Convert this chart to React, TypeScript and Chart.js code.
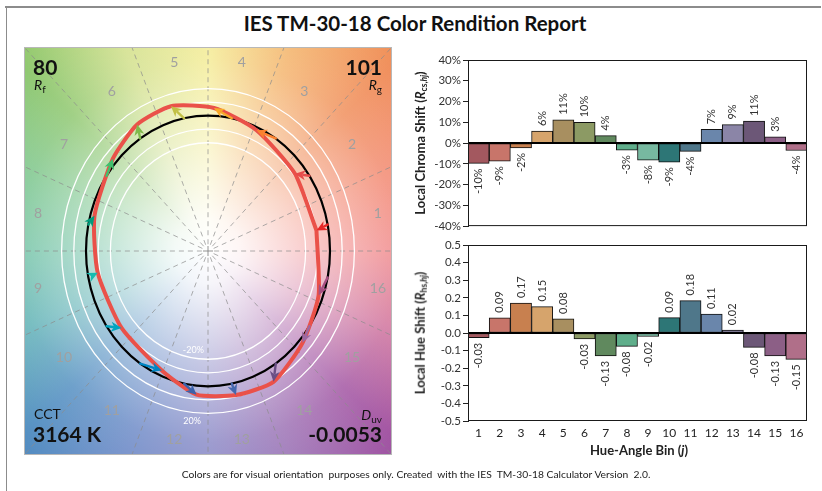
import React, { useEffect, useRef } from "react";
import { Chart, registerables } from "chart.js";

Chart.register(...registerables);
Chart.defaults.font.family = "Lato, 'Open Sans', sans-serif";

// ---------------- data ----------------
const BIN_LABELS = ["1", "2", "3", "4", "5", "6", "7", "8", "9", "10", "11", "12", "13", "14", "15", "16"];
// Local chroma shift, percent
const CHROMA_SHIFT = [-9.8, -8.7, -2.3, 5.8, 11.2, 10.0, 3.6, -3.4, -8.2, -9.2, -4.0, 6.6, 8.9, 10.6, 3.0, -3.6];
// Local hue shift
const HUE_SHIFT = [-0.027, 0.086, 0.17, 0.15, 0.08, -0.033, -0.13, -0.076, -0.02, 0.087, 0.184, 0.108, 0.016, -0.082, -0.13, -0.15];
const BAR_COLORS = ["#a3585f", "#c8756a", "#c8804f", "#d6a46c", "#a88f60", "#8c9a64", "#60895e", "#5fae8b",
  "#77b9a0", "#2d7676", "#4f778a", "#6a86ab", "#8b85a7", "#6c5777", "#8c5f86", "#b06f89"];
const ARROW_COLORS = ["#e62828", "#e74b4b", "#fb812e", "#f7a829", "#c2c046", "#7eb94c", "#41c06d", "#009c7c",
  "#16bcb0", "#00a4bf", "#0085c3", "#3b62aa", "#4568ae", "#6a4e85", "#9d69a1", "#a74f81"];
const CHROMA_AXIS = [-40, 40, 10]; // min, max, step (percent)
const HUE_AXIS = [-0.5, 0.5, 0.1];
const RING_RADII = [0.8, 0.9, 1.1, 1.2];
const RING_LABELS = ["-20%", "20%"];
const REFERENCE_RADIUS = 1;
const FIDELITY = "80";
const GAMUT = "101";
const CCT = "3164 K";
const DUV = "-0.0053";
const BG_HUES: [number, string][] = [
  [0, "#f08486"], [22.5, "#f2866e"], [45, "#f08c58"], [67.5, "#f4b46c"], [90, "#f4ec94"],
  [112.5, "#d2e08c"], [135, "#8cc66c"], [157.5, "#78c48a"], [180, "#6cc0a2"], [202.5, "#5cb0b4"],
  [225, "#4f8cc0"], [247.5, "#6a88c6"], [270, "#8888c6"], [292.5, "#9a70b4"], [315, "#a050a0"],
  [337.5, "#d0709a"], [360, "#f08486"],
];

const BIN_WIDTH = (2 * Math.PI) / BIN_LABELS.length;
const binCenter = (j: number) => (j + 0.5) * BIN_WIDTH;

// ---------------- vector graphic ----------------
function drawArrow(ctx: CanvasRenderingContext2D, x0: number, y0: number, x1: number, y1: number, color: string) {
  const dx = x1 - x0, dy = y1 - y0;
  const len = Math.hypot(dx, dy);
  if (len < 0.5) return;
  const ux = dx / len, uy = dy / len;
  const hl = 10.5, hw = 5;
  const bx = x1 - ux * hl, by = y1 - uy * hl;
  ctx.save();
  ctx.strokeStyle = color;
  ctx.fillStyle = color;
  ctx.lineWidth = 2.4;
  ctx.lineCap = "round";
  if (len > hl) {
    ctx.beginPath();
    ctx.moveTo(x0, y0);
    ctx.lineTo(bx + ux * 2, by + uy * 2);
    ctx.stroke();
  }
  ctx.beginPath();
  ctx.moveTo(x1, y1);
  ctx.lineTo(bx - uy * hw, by + ux * hw);
  ctx.lineTo(bx + ux * 3, by + uy * 3);
  ctx.lineTo(bx + uy * hw, by - ux * hw);
  ctx.closePath();
  ctx.fill();
  ctx.restore();
}

function VectorGraphic() {
  const ref = useRef<HTMLCanvasElement>(null);
  useEffect(() => {
    const testPts = BIN_LABELS.map((_, j) => {
      const a = binCenter(j) + HUE_SHIFT[j];
      const r = REFERENCE_RADIUS * (1 + CHROMA_SHIFT[j] / 100);
      return { x: r * Math.cos(a), y: r * Math.sin(a) };
    });
    const closed = [...testPts, testPts[0]];

    const plugin = {
      id: "tmVector",
      beforeDraw(chart: any) {
        const { ctx, chartArea: ca, scales } = chart;
        const sx = scales.x, sy = scales.y;
        const cx = sx.getPixelForValue(0), cy = sy.getPixelForValue(0);
        const px = (v: number) => sx.getPixelForValue(v) - cx;
        const py = (v: number) => cy - sy.getPixelForValue(v);
        ctx.save();
        ctx.beginPath();
        ctx.rect(ca.left, ca.top, ca.width, ca.height);
        ctx.clip();
        // hue background
        if ((ctx as any).createConicGradient) {
          const g = (ctx as any).createConicGradient(0, cx, cy);
          BG_HUES.forEach(([deg, col]) => g.addColorStop((360 - deg) / 360, col));
          ctx.fillStyle = g;
          ctx.fillRect(ca.left, ca.top, ca.width, ca.height);
        }
        const R = Math.hypot(ca.width, ca.height) / 2;
        const rg = ctx.createRadialGradient(cx, cy, 0, cx, cy, R);
        rg.addColorStop(0, "rgba(255,255,255,1)");
        rg.addColorStop(0.12, "rgba(255,255,255,0.92)");
        rg.addColorStop(0.4, "rgba(255,255,255,0.55)");
        rg.addColorStop(0.7, "rgba(255,255,255,0.18)");
        rg.addColorStop(1, "rgba(255,255,255,0)");
        ctx.fillStyle = rg;
        ctx.fillRect(ca.left, ca.top, ca.width, ca.height);
        // dashed bin boundaries
        ctx.strokeStyle = "rgba(140,140,140,0.7)";
        ctx.lineWidth = 1;
        ctx.setLineDash([5, 4]);
        BIN_LABELS.forEach((_, k) => {
          const a = k * BIN_WIDTH;
          ctx.beginPath();
          ctx.moveTo(cx + px(0.05 * Math.cos(a)), cy - py(0.05 * Math.sin(a)));
          ctx.lineTo(cx + px(3 * Math.cos(a)), cy - py(3 * Math.sin(a)));
          ctx.stroke();
        });
        ctx.setLineDash([]);
        ctx.strokeStyle = "rgba(120,120,120,0.8)";
        ctx.beginPath();
        ctx.moveTo(cx - 5, cy); ctx.lineTo(cx + 5, cy);
        ctx.moveTo(cx, cy - 5); ctx.lineTo(cx, cy + 5);
        ctx.stroke();
        // white rings
        ctx.strokeStyle = "#ffffff";
        ctx.lineWidth = 1.3;
        RING_RADII.forEach((r) => {
          ctx.beginPath();
          ctx.ellipse(cx, cy, px(r), py(r), 0, 0, 2 * Math.PI);
          ctx.stroke();
        });
        // ring labels
        ctx.fillStyle = "#ffffff";
        ctx.font = "9px Lato";
        ctx.textAlign = "center";
        ctx.textBaseline = "middle";
        ctx.fillText(RING_LABELS[0], cx + px(-0.12), cy - py(-RING_RADII[0] + 0.065));
        ctx.fillText(RING_LABELS[1], cx + px(-0.13), cy - py(-RING_RADII[3] - 0.055));
        // bin numbers
        ctx.fillStyle = "#a0a0a0";
        ctx.font = "14px Lato";
        BIN_LABELS.forEach((lab, j) => {
          const a = binCenter(j);
          ctx.fillText(lab, cx + px(1.42 * Math.cos(a)), cy - py(1.42 * Math.sin(a)));
        });
        ctx.restore();
      },
      beforeDatasetsDraw(chart: any) {
        const { ctx, scales } = chart;
        const cx = scales.x.getPixelForValue(0), cy = scales.y.getPixelForValue(0);
        ctx.save();
        ctx.strokeStyle = "#000000";
        ctx.lineWidth = 2.2;
        ctx.beginPath();
        ctx.ellipse(cx, cy, scales.x.getPixelForValue(REFERENCE_RADIUS) - cx, cy - scales.y.getPixelForValue(REFERENCE_RADIUS), 0, 0, 2 * Math.PI);
        ctx.stroke();
        ctx.restore();
      },
      afterDatasetsDraw(chart: any) {
        const { ctx, scales } = chart;
        BIN_LABELS.forEach((_, j) => {
          const a = binCenter(j);
          const x0 = scales.x.getPixelForValue(REFERENCE_RADIUS * Math.cos(a));
          const y0 = scales.y.getPixelForValue(REFERENCE_RADIUS * Math.sin(a));
          const x1 = scales.x.getPixelForValue(testPts[j].x);
          const y1 = scales.y.getPixelForValue(testPts[j].y);
          drawArrow(ctx, x0, y0, x1, y1, ARROW_COLORS[j]);
        });
      },
    };

    const chart = new Chart(ref.current as HTMLCanvasElement, {
      type: "scatter",
      data: {
        datasets: [{
          data: closed,
          showLine: true,
          borderColor: "#ea5149",
          borderWidth: 4,
          pointRadius: 0,
          fill: false,
          tension: 0.2,
          borderJoinStyle: "round",
        } as any],
      },
      options: {
        animation: false,
        responsive: false,
        events: [],
        layout: { padding: 0 },
        plugins: { legend: { display: false }, tooltip: { enabled: false } },
        scales: {
          x: { type: "linear", min: -1.5, max: 1.5, display: false },
          y: { type: "linear", min: -1.5, max: 1.5, display: false },
        },
      },
      plugins: [plugin],
    });
    return () => chart.destroy();
  }, []);
  return (
    <canvas
      ref={ref}
      width={366}
      height={406}
      style={{ position: "absolute", left: 25, top: 48, width: 366, height: 406, border: "1px solid #b8b8b8", boxSizing: "content-box", marginLeft: -1, marginTop: -1 }}
    />
  );
}

// ---------------- bar charts ----------------
type BarProps = {
  values: number[];
  axis: number[];
  tickFmt: (v: number) => string;
  labelFmt: (v: number) => string;
  showX: boolean;
  top: number;
  height: number;
  padding: { top: number; bottom: number };
};

function BarPanel({ values, axis, tickFmt, labelFmt, showX, top, height, padding }: BarProps) {
  const ref = useRef<HTMLCanvasElement>(null);
  useEffect(() => {
    const plugin = {
      id: "barExtras",
      afterDatasetsDraw(chart: any) {
        const { ctx, chartArea: ca, scales } = chart;
        const y0 = scales.y.getPixelForValue(0);
        ctx.save();
        ctx.strokeStyle = "#000";
        ctx.lineWidth = 2;
        ctx.beginPath();
        ctx.moveTo(ca.left, y0);
        ctx.lineTo(ca.right, y0);
        ctx.stroke();
        ctx.lineWidth = 1;
        ctx.strokeStyle = "#1a1a1a";
        ctx.strokeRect(ca.left + 0.5, ca.top + 0.5, ca.width - 1, ca.height - 1);
        // value labels
        const meta = chart.getDatasetMeta(0);
        ctx.fillStyle = "#333";
        ctx.font = "11px Lato";
        ctx.textBaseline = "middle";
        meta.data.forEach((bar: any, i: number) => {
          const v = values[i];
          ctx.save();
          ctx.translate(bar.x, bar.y);
          ctx.rotate(-Math.PI / 2);
          if (v >= 0) {
            ctx.textAlign = "left";
            ctx.fillText(labelFmt(v), 5, 0);
          } else {
            ctx.textAlign = "right";
            ctx.fillText(labelFmt(v), -5, 0);
          }
          ctx.restore();
        });
        ctx.restore();
      },
    };
    const chart = new Chart(ref.current as HTMLCanvasElement, {
      type: "bar",
      data: {
        labels: BIN_LABELS,
        datasets: [{
          data: values,
          backgroundColor: BAR_COLORS,
          borderColor: "#111",
          borderWidth: 1,
          borderSkipped: false,
          barPercentage: 1,
          categoryPercentage: 1,
        } as any],
      },
      options: {
        animation: false,
        responsive: false,
        events: [],
        layout: { padding: { left: 0, right: 15, top: padding.top, bottom: padding.bottom } },
        plugins: { legend: { display: false }, tooltip: { enabled: false } },
        scales: {
          x: {
            type: "category",
            display: showX,
            grid: { display: false, drawTicks: false },
            border: { display: false },
            ticks: { color: "#222", font: { size: 12 }, padding: 5, maxRotation: 0, autoSkip: false },
            afterFit: (s: any) => { if (showX) s.height = 22; },
          },
          y: {
            min: axis[0],
            max: axis[1],
            grid: { display: true, drawOnChartArea: false, drawTicks: true, tickLength: 5, color: "#222" },
            border: { display: true, color: "#222" },
            ticks: { stepSize: axis[2], color: "#333", font: { size: 11.5 }, padding: 2, callback: (v: any) => tickFmt(Number(v)) },
            afterFit: (s: any) => { s.width = 68; },
          },
        },
      },
      plugins: [plugin],
    });
    return () => chart.destroy();
  }, []);
  return (
    <canvas ref={ref} width={422} height={height} style={{ position: "absolute", left: 400, top, width: 422, height }} />
  );
}

// ---------------- page ----------------
const abs = (s: React.CSSProperties): React.CSSProperties => ({ position: "absolute", whiteSpace: "nowrap", lineHeight: 1, ...s });

export default function App() {
  return (
    <div style={{ position: "absolute", left: 0, top: 0, width: 822, height: 491, background: "#fff", fontFamily: "Lato, 'Open Sans', sans-serif", color: "#111", overflow: "hidden" }}>
      <div style={abs({ left: 5, top: 6, width: 816, height: 1.5, background: "#8c8c8c" })} />
      <div style={abs({ left: 5.5, top: 6, width: 1.5, height: 485, background: "#8c8c8c" })} />
      <div style={abs({ left: 0, width: 830, top: 12.5, textAlign: "center", fontWeight: 700, fontSize: 20.5 })}>IES TM-30-18 Color Rendition Report</div>

      <VectorGraphic />
      <BarPanel
        values={CHROMA_SHIFT}
        axis={CHROMA_AXIS}
        tickFmt={(v) => `${Math.round(v)}%`}
        labelFmt={(v) => `${Math.round(v)}%`}
        showX={false}
        top={45}
        height={190}
        padding={{ top: 15, bottom: 8 }}
      />
      <BarPanel
        values={HUE_SHIFT}
        axis={HUE_AXIS}
        tickFmt={(v) => v.toFixed(1)}
        labelFmt={(v) => v.toFixed(2)}
        showX={true}
        top={235}
        height={235}
        padding={{ top: 10, bottom: 27 }}
      />

      {/* corner metrics */}
      <div style={abs({ left: 33, top: 55.5, fontWeight: 700, fontSize: 21 })}>{FIDELITY}</div>
      <div style={abs({ left: 34, top: 78, fontSize: 14 })}><i>R</i><sub style={{ fontSize: 10, verticalAlign: -3 }}>f</sub></div>
      <div style={abs({ right: 822 - 382, top: 55.5, fontWeight: 700, fontSize: 21 })}>{GAMUT}</div>
      <div style={abs({ right: 822 - 382, top: 78, fontSize: 14 })}><i>R</i><sub style={{ fontSize: 10, verticalAlign: -3 }}>g</sub></div>
      <div style={abs({ left: 34, top: 406.6, fontSize: 14 })}>CCT</div>
      <div style={abs({ left: 33, top: 423.4, fontWeight: 700, fontSize: 21 })}>{CCT}</div>
      <div style={abs({ right: 822 - 382, top: 407.6, fontSize: 14 })}><i>D</i><sub style={{ fontSize: 10, verticalAlign: -3 }}>uv</sub></div>
      <div style={abs({ right: 822 - 382, top: 423.4, fontWeight: 700, fontSize: 21 })}>{DUV}</div>

      {/* axis titles */}
      <div style={abs({ left: 421, top: 143, transform: "translate(-50%,-50%) rotate(-90deg)", fontWeight: 700, fontSize: 13, color: "#222" })}>
        Local Chroma Shift (<i>R</i><sub style={{ fontSize: 8.5, verticalAlign: -2 }}>cs,<i>hj</i></sub>)
      </div>
      <div style={abs({ left: 421, top: 333, transform: "translate(-50%,-50%) rotate(-90deg)", fontWeight: 700, fontSize: 13, color: "#222" })}>
        Local Hue Shift (<i>R</i><sub style={{ fontSize: 8.5, verticalAlign: -2 }}>hs,<i>hj</i></sub>)
      </div>
      <div style={abs({ left: 639, top: 443.5, transform: "translateX(-50%)", fontWeight: 700, fontSize: 13, color: "#222" })}>
        Hue-Angle Bin (<i>j</i>)
      </div>

      <div style={abs({ left: 0, width: 832, top: 469, textAlign: "center", fontSize: 10.3, color: "#222" })}>
        Colors are for visual orientation&nbsp; purposes only. Created&nbsp; with the IES&nbsp; TM-30-18 Calculator Version&nbsp; 2.0.
      </div>
    </div>
  );
}
